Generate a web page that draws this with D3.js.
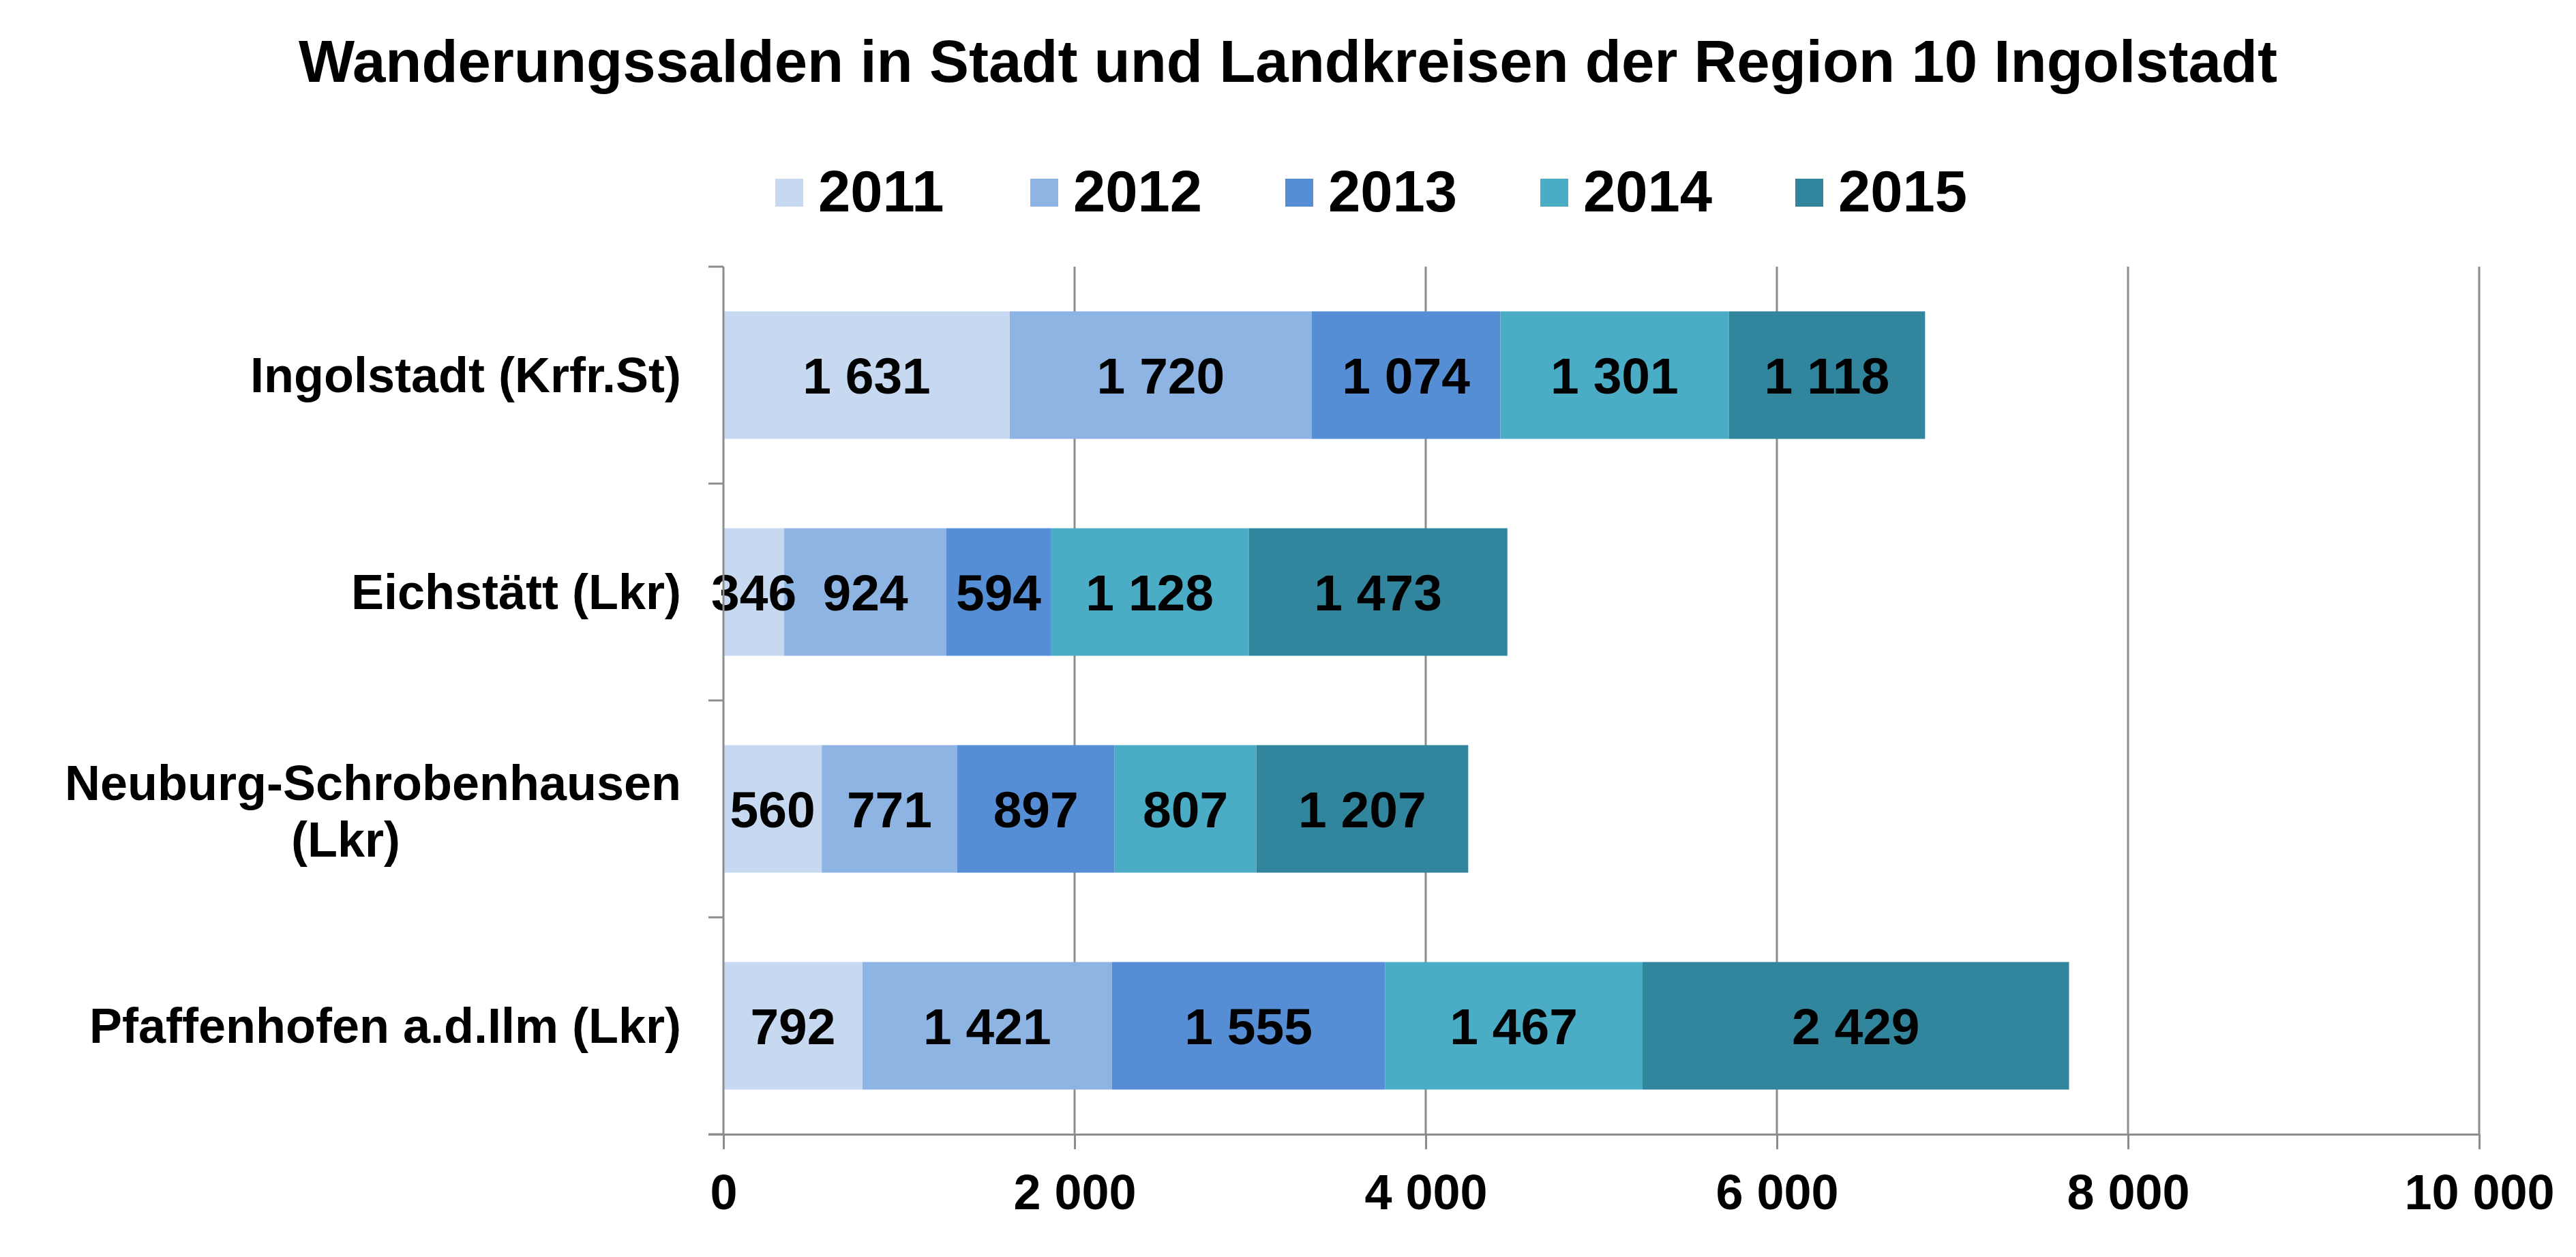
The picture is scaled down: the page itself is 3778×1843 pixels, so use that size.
<!DOCTYPE html>
<html>
<head>
<meta charset="utf-8">
<script src="https://cdn.jsdelivr.net/npm/d3@7"></script>
<style>
  html, body { margin: 0; padding: 0; background: #fff; }
  svg { display: block; }
  text { font-family: "Liberation Sans", Arial, sans-serif; font-weight: bold; fill: #000; }
</style>
</head>
<body>
<svg id="chart" width="3778" height="1843"></svg>
<script>
const title = "Wanderungssalden in Stadt und Landkreisen der Region 10 Ingolstadt";
const categories = ["Ingolstadt (Krfr.St)", "Eichstätt (Lkr)", "Neuburg-Schrobenhausen (Lkr)", "Pfaffenhofen a.d.Ilm (Lkr)"];
const categoryLines = [["Ingolstadt (Krfr.St)"], ["Eichstätt (Lkr)"], ["Neuburg-Schrobenhausen", "(Lkr)"], ["Pfaffenhofen a.d.Ilm (Lkr)"]];
const years = ["2011", "2012", "2013", "2014", "2015"];
const v2011 = [1631, 346, 560, 792];
const v2012 = [1720, 924, 771, 1421];
const v2013 = [1074, 594, 897, 1555];
const v2014 = [1301, 1128, 807, 1467];
const v2015 = [1118, 1473, 1207, 2429];
const colors = ["#C6D9F1", "#8EB4E3", "#558ED5", "#4BACC6", "#31859C"];
const xTicks = [0, 2000, 4000, 6000, 8000, 10000];

const series = [v2011, v2012, v2013, v2014, v2015];
const rows = categories.map((c, i) => {
  const r = { cat: c };
  years.forEach((y, j) => r[y] = series[j][i]);
  return r;
});

const locale = d3.formatLocale({ decimal: ",", thousands: " ", grouping: [3], currency: ["", " €"] });
const fmt = locale.format(",d");

const svg = d3.select("#chart");
const W = 3778, H = 1843;
const plot = { left: 1061, right: 3636, top: 391, bottom: 1663 };
const axisColor = "#8C8C8C";

const x = d3.scaleLinear().domain([0, 10000]).range([plot.left, plot.right]);
const y = d3.scaleBand().domain(categories).range([plot.top, plot.bottom]).paddingInner(0.412).paddingOuter(0.206);

// Title
svg.append("text")
  .attr("x", W / 2).attr("y", 120)
  .attr("text-anchor", "middle")
  .style("font-size", "87px")
  .text(title);

// Legend
const legend = svg.append("g");
years.forEach((yr, i) => {
  const g = legend.append("g").attr("transform", `translate(${1137 + i * 374},0)`);
  g.append("rect").attr("x", 0).attr("y", 262).attr("width", 41).attr("height", 41).attr("fill", colors[i]);
  g.append("text").attr("x", 63).attr("y", 310).style("font-size", "85px").text(yr);
});

// Gridlines
svg.append("g").selectAll("line")
  .data(xTicks.filter(d => d > 0))
  .join("line")
  .attr("x1", d => x(d)).attr("x2", d => x(d))
  .attr("y1", plot.top).attr("y2", plot.bottom)
  .attr("stroke", axisColor).attr("stroke-width", 3);

// Bars
const stack = d3.stack().keys(years);
const stacked = stack(rows);
const barG = svg.append("g");
stacked.forEach((layer, j) => {
  barG.append("g").attr("fill", colors[j])
    .selectAll("rect")
    .data(layer)
    .join("rect")
    .attr("x", d => x(d[0]))
    .attr("width", d => x(d[1]) - x(d[0]))
    .attr("y", d => y(d.data.cat))
    .attr("height", y.bandwidth());
});

// Data labels
const labelG = svg.append("g");
stacked.forEach((layer, j) => {
  labelG.selectAll(null)
    .data(layer)
    .join("text")
    .attr("x", d => (x(d[0]) + x(d[1])) / 2)
    .attr("y", d => y(d.data.cat) + y.bandwidth() / 2 + 27)
    .attr("text-anchor", "middle")
    .style("font-size", "75px")
    .text(d => fmt(d[1] - d[0]));
});

// Y axis line and ticks at category boundaries
const yAxisG = svg.append("g");
yAxisG.append("line")
  .attr("x1", plot.left).attr("x2", plot.left)
  .attr("y1", plot.top).attr("y2", plot.bottom)
  .attr("stroke", axisColor).attr("stroke-width", 3);
const boundaries = d3.range(categories.length + 1).map(i => plot.top + i * y.step());
yAxisG.selectAll("line.tick")
  .data(boundaries)
  .join("line")
  .attr("class", "tick")
  .attr("x1", plot.left - 22).attr("x2", plot.left)
  .attr("y1", d => d).attr("y2", d => d)
  .attr("stroke", axisColor).attr("stroke-width", 3);

// Category labels
const catG = svg.append("g");
categoryLines.forEach((lines, i) => {
  const cy = y(categories[i]) + y.bandwidth() / 2;
  const lh = 83;
  const first = cy + 25 - (lines.length - 1) * lh / 2 + 3;
  if (lines.length === 1) {
    catG.append("text").attr("x", 999).attr("y", cy + 25).attr("text-anchor", "end")
      .style("font-size", "72px").text(lines[0]);
  } else {
    const t1 = catG.append("text").attr("x", 999).attr("y", first).attr("text-anchor", "end")
      .style("font-size", "72px").text(lines[0]);
    const w1 = t1.node().getComputedTextLength();
    for (let k = 1; k < lines.length; k++) {
      catG.append("text").attr("x", 999 - w1 / 2 - 40).attr("y", first + k * lh)
        .attr("text-anchor", "middle").style("font-size", "72px").text(lines[k]);
    }
  }
});

// X axis
const xAxis = d3.axisBottom(x).tickValues(xTicks).tickSize(22).tickPadding(37).tickFormat(fmt);
const xg = svg.append("g").attr("transform", `translate(0,${plot.bottom})`).call(xAxis);
xg.select(".domain").attr("stroke", axisColor).attr("stroke-width", 3)
  .attr("d", `M${plot.left - 22},0.5H${plot.right}`);
xg.selectAll(".tick line").attr("stroke", axisColor).attr("stroke-width", 3);
xg.selectAll(".tick text")
  .style("font-size", "72px")
  .style("font-family", '"Liberation Sans", Arial, sans-serif')
  .style("font-weight", "bold")
  .attr("fill", "#000");
</script>
</body>
</html>
